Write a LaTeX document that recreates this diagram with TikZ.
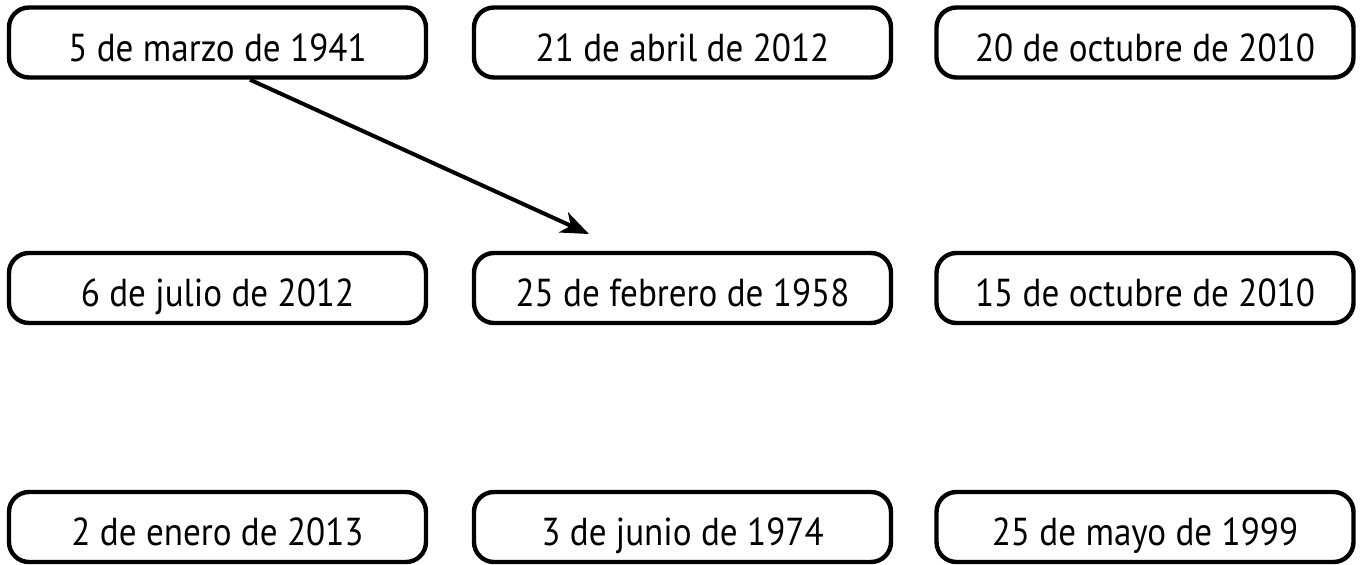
\documentclass[tikz,border=0pt]{standalone}
\usepackage{fontspec}
\setmainfont{PT Sans}[FakeStretch=0.9]
\usepackage{tikz}
\usetikzlibrary{arrows.meta,positioning}
\tikzstyle{datebox}=[draw,line width=2.2pt,rounded corners=10pt,minimum width=208.5pt,minimum height=35pt,inner sep=0pt,text height=18.5pt,text depth=0pt,font=\fontsize{19.5}{24}\selectfont]

\begin{document}
\begin{tikzpicture}[x=0.5pt,y=0.5pt,
every edge/.style = {draw, -{Stealth[length=14pt,width=11pt,inset=4pt]}, line width=2pt}]
\useasboundingbox (0,0) rectangle (1364,564);
% first row
\node [datebox] (marzo) at (217.5,521.5) {5 de marzo de 1941};
\node [datebox] (abril) at (682.5,521.5) {21 de abril de 2012};
\node [datebox] (octA) at (1145,521.5) {20 de octubre de 2010};
% second row
\node [datebox] (julio) at (217.5,276) {6 de julio de 2012};
\node [datebox] (febrero) at (682.5,276) {25 de febrero de 1958};
\node [datebox] (octB) at (1145,276) {15 de octubre de 2010};
% third row
\node [datebox] (enero) at (217.5,37) {2 de enero de 2013};
\node [datebox] (junio) at (682.5,37) {3 de junio de 1974};
\node [datebox] (mayo) at (1145,37) {25 de mayo de 1999};
\coordinate (tip) at (589,330);
\draw ([xshift=16.25pt]marzo.south) edge (tip);
\end{tikzpicture}
\end{document}
